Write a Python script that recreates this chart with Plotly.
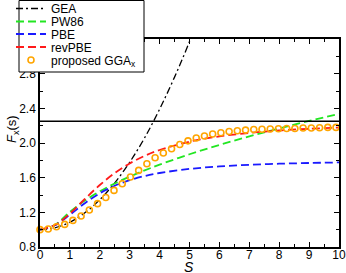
import plotly.graph_objects as go

# ---- data ----
s_curve = [0, 0.5, 1, 1.5, 2, 2.5, 3, 3.5, 4, 5, 6, 7, 8, 9, 10]
pw86 = [1.000, 1.054, 1.206, 1.336, 1.442, 1.533, 1.612, 1.684, 1.750, 1.870, 1.977, 2.076, 2.168, 2.255, 2.337]
pbe = [1.000, 1.051, 1.172, 1.306, 1.420, 1.507, 1.571, 1.619, 1.654, 1.701, 1.730, 1.748, 1.761, 1.769, 1.776]
revpbe = [1.000, 1.053, 1.187, 1.354, 1.515, 1.653, 1.764, 1.851, 1.919, 2.015, 2.076, 2.116, 2.144, 2.164, 2.178]

s_gea = [0, 0.5, 1, 1.5, 2, 2.5, 3, 3.5, 4, 4.5, 5, 5.5]
gea = [1.000, 1.022, 1.086, 1.194, 1.346, 1.540, 1.778, 2.060, 2.390, 2.760, 3.170, 3.620]

s_prop = [0.0, 0.275, 0.55, 0.825, 1.1, 1.375, 1.65, 1.925, 2.2, 2.475, 2.75, 3.025, 3.3,
          3.575, 3.85, 4.125, 4.4, 4.675, 4.95, 5.225, 5.5, 5.775, 6.05, 6.325, 6.6, 6.875,
          7.15, 7.425, 7.7, 7.975, 8.25, 8.525, 8.8, 9.075, 9.35, 9.625, 9.9]
proposed = [1.000, 1.008, 1.034, 1.061, 1.107, 1.157, 1.227, 1.300, 1.372, 1.453, 1.530, 1.607, 1.684,
            1.761, 1.830, 1.884, 1.934, 1.983, 2.025, 2.057, 2.080, 2.103, 2.118, 2.133, 2.141, 2.149,
            2.156, 2.158, 2.161, 2.164, 2.168, 2.168, 2.173, 2.173, 2.176, 2.180, 2.180]

lo_bound = 2.25

x_ticks = list(range(0, 11))
y_ticks = [0.8, 1.2, 1.6, 2.0, 2.4, 2.8, 3.2]
y_ticktext = ["0.8", "1.2", "1.6", "2.0", "2.4", "2.8", " "]

FONT = "Liberation Sans, Arial, sans-serif"

fig = go.Figure()

fig.add_trace(go.Scatter(x=s_gea, y=gea, mode="lines", name="GEA", legend="legend",
                         line=dict(color="black", width=1.3, dash="7px,3px,2px,3px",
                                   shape="spline")))
fig.add_trace(go.Scatter(x=s_curve, y=pw86, mode="lines", name="PW86", legend="legend2",
                         line=dict(color="#22e622", width=1.8, dash="8px,4px", shape="spline")))
fig.add_trace(go.Scatter(x=s_curve, y=pbe, mode="lines", name="PBE", legend="legend3",
                         line=dict(color="#1a1aff", width=1.8, dash="8px,4px", shape="spline")))
fig.add_trace(go.Scatter(x=s_curve, y=revpbe, mode="lines", name="revPBE", legend="legend4",
                         line=dict(color="#ff1a1a", width=1.8, dash="8px,4px", shape="spline")))
fig.add_trace(go.Scatter(x=s_prop, y=proposed, mode="markers", name="proposed GGA<sub>x</sub>",
                         legend="legend5", cliponaxis=False,
                         marker=dict(symbol="circle-open", size=6, color="#ffa500",
                                     line=dict(width=1.6, color="#ffa500"))))

fig.add_hline(y=lo_bound, line=dict(color="black", width=1.5))

# plot area in px: left 40, right 339, top 39, bottom 247
W, H = 346, 273
L, R, T, B = 40, 7, 39, 26
pw, ph = W - L - R, H - T - B


def px_to_paper_x(px):
    return (px - L) / pw


def px_to_paper_y(py):
    return (H - B - py) / ph


# legend frame
fig.add_shape(type="rect", xref="paper", yref="paper", layer="above",
              x0=px_to_paper_x(19), x1=px_to_paper_x(144),
              y0=px_to_paper_y(72), y1=px_to_paper_y(0.5),
              fillcolor="white", line=dict(color="black", width=1))

legend_rows = [8.5, 21.5, 34, 47, 60]
leg_common = dict(x=px_to_paper_x(11), xanchor="left", yanchor="middle",
                  bgcolor="rgba(0,0,0,0)", borderwidth=0,
                  font=dict(family=FONT, size=12, color="black"),
                  itemwidth=30)
legend_layout = {}
for i, row in enumerate(legend_rows):
    key = "legend" if i == 0 else f"legend{i+1}"
    legend_layout[key] = dict(y=px_to_paper_y(row), **leg_common)

axis_common = dict(showline=True, linecolor="black", linewidth=1.5, mirror="ticks",
                   ticks="inside", ticklen=5, tickwidth=1, tickcolor="black",
                   showgrid=False, zeroline=False,
                   tickfont=dict(family=FONT, size=12, color="black"))

fig.update_layout(
    width=W, height=H,
    margin=dict(l=L, r=R, t=T, b=B, pad=0, autoexpand=False),
    paper_bgcolor="white", plot_bgcolor="white",
    showlegend=True,
    xaxis=dict(range=[0, 10], tickmode="array", tickvals=x_ticks,
               minor=dict(tickmode="linear", tick0=0, dtick=0.5, ticks="inside",
                          ticklen=3, tickcolor="black"),
               **axis_common),
    yaxis=dict(range=[0.8, 3.2], tickmode="array", tickvals=y_ticks, ticktext=y_ticktext,
               minor=dict(tickmode="linear", tick0=0.8, dtick=0.2, ticks="inside",
                          ticklen=3, tickcolor="black"),
               **axis_common),
    annotations=[
        dict(text="<i>S</i>", xref="paper", yref="paper", x=px_to_paper_x(189),
             y=px_to_paper_y(267), showarrow=False, xanchor="center", yanchor="middle",
             height=12, valign="middle",
             font=dict(family=FONT, size=14, color="black")),
        dict(text="<i>F</i><sub>x</sub>(s)", xref="paper", yref="paper",
             x=px_to_paper_x(12), y=px_to_paper_y(129), textangle=-90,
             showarrow=False, xanchor="center", yanchor="middle",
             font=dict(family=FONT, size=13, color="black")),
    ],
    **legend_layout,
)

try:
    fig.update_xaxes(ticklabelstandoff=-4)
except Exception:
    pass

fig.write_html("out.html", config={"displayModeBar": False},
               post_script="document.body.style.margin='0';document.body.style.padding='0';"
                           "document.body.style.overflow='hidden';")
